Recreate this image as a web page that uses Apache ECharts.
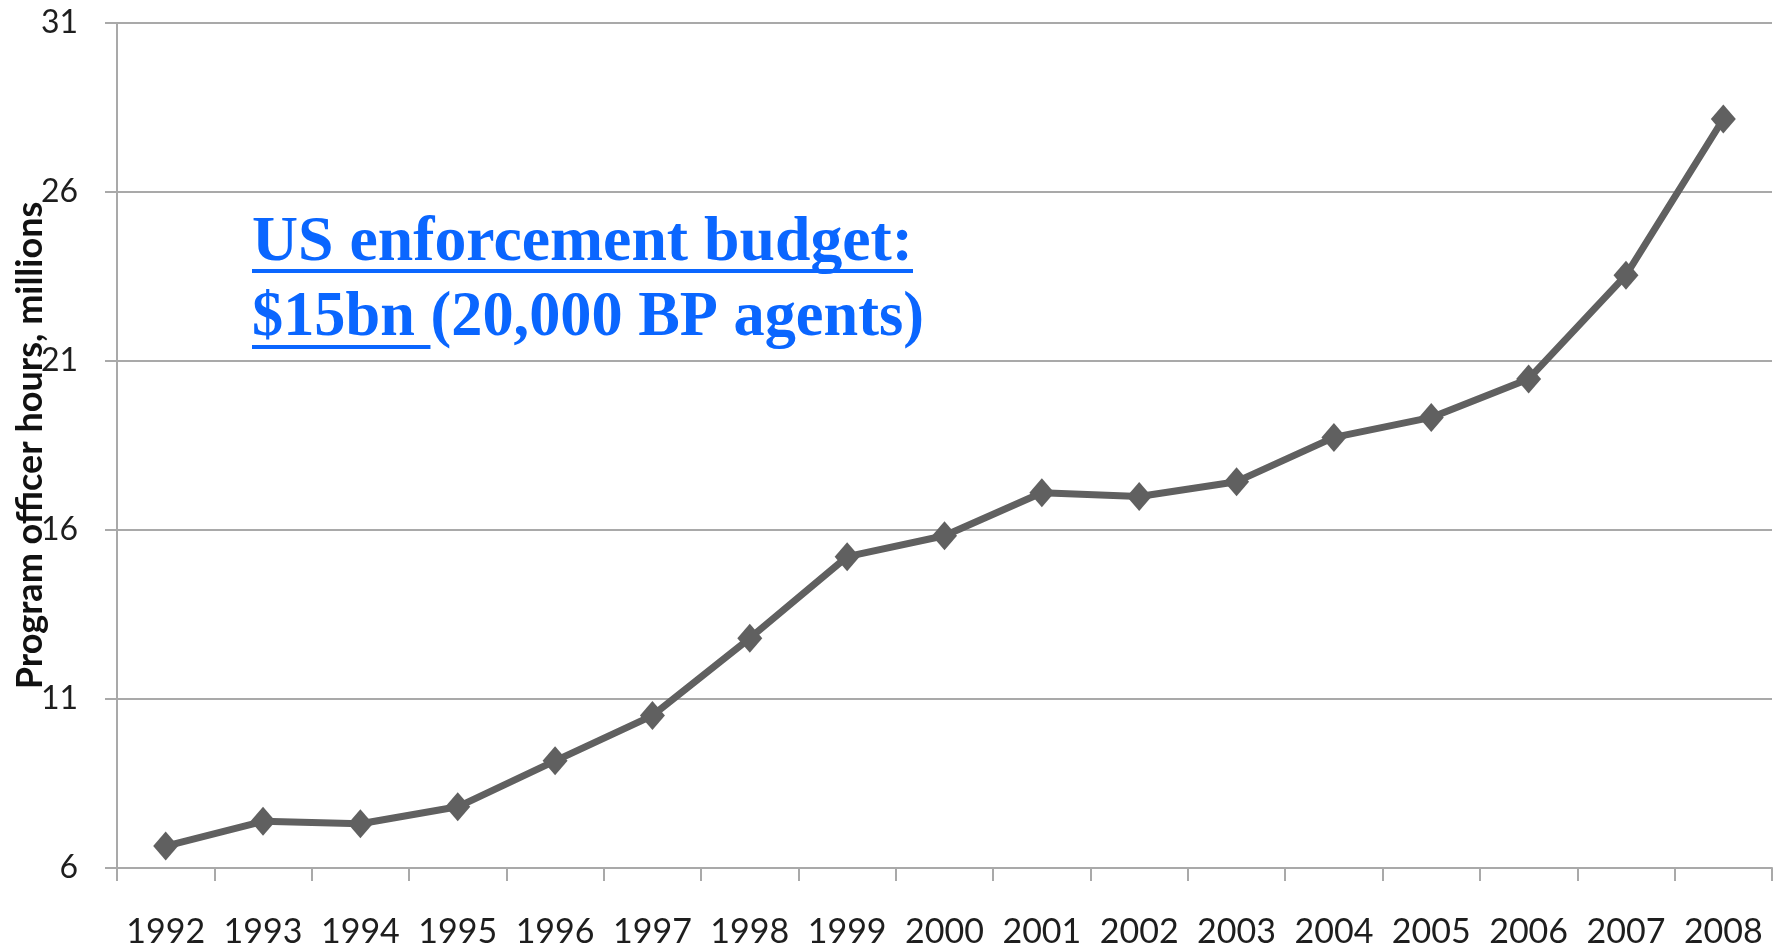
<!DOCTYPE html>
<html>
<head>
<meta charset="utf-8">
<script src="https://cdn.jsdelivr.net/npm/echarts@6/dist/echarts.min.js"></script>
<style>
html,body{margin:0;padding:0;background:#fff;}
#chart{width:1789px;height:946px;}
</style>
</head>
<body>
<div id="chart"></div>
<script>
// Data
var years = ['1992','1993','1994','1995','1996','1997','1998','1999','2000','2001','2002','2003','2004','2005','2006','2007','2008'];
var officerHours = [6.65, 7.38, 7.31, 7.81, 9.17, 10.51, 12.80, 15.21, 15.83, 17.10, 16.99, 17.43, 18.74, 19.33, 20.47, 23.54, 28.16];
var yTicks = {min: 6, max: 31, interval: 5};
var yTitle = 'Program officer hours, millions';
var noteLine1 = 'US enforcement budget:';
var noteLine2a = '$15bn ';
var noteLine2b = '(20,000 BP agents)';

var noteFont = 'bold 63px "Liberation Serif"';
var ctx = document.createElement('canvas').getContext('2d');
ctx.font = noteFont;
var noteScale1 = 661 / ctx.measureText(noteLine1).width;
var noteScale2 = 672 / ctx.measureText(noteLine2a + noteLine2b).width;
var wUnder2 = ctx.measureText(noteLine2a).width * noteScale2;

var blue = '#0a66ff';
var gridColor = '#a9a9a9';

var chart = echarts.init(document.getElementById('chart'));
chart.setOption({
  animation: false,
  backgroundColor: '#ffffff',
  grid: {left: 117, right: 17, top: 23, bottom: 78, containLabel: false, outerBoundsMode: 'none'},
  xAxis: {
    type: 'category',
    data: years,
    boundaryGap: true,
    axisLine: {show: true, lineStyle: {color: gridColor, width: 2}},
    axisTick: {show: true, length: 13, alignWithLabel: false, lineStyle: {color: gridColor, width: 2}},
    axisLabel: {fontFamily: 'Lato', fontSize: 34, color: '#1e1e1e', margin: 47, interval: 0},
    splitLine: {show: false}
  },
  yAxis: {
    type: 'value',
    min: yTicks.min, max: yTicks.max, interval: yTicks.interval,
    name: yTitle,
    nameLocation: 'middle',
    nameRotate: 90,
    nameGap: 69,
    nameMoveOverlap: false,
    nameTextStyle: {fontFamily: 'Lato', fontWeight: 'bold', fontSize: 36, color: '#111'},
    axisLine: {show: true, lineStyle: {color: gridColor, width: 2}},
    axisTick: {show: true, length: 12, lineStyle: {color: gridColor, width: 2}},
    axisLabel: {fontFamily: 'Lato', fontSize: 32, color: '#1e1e1e', margin: 39},
    splitLine: {show: true, lineStyle: {color: gridColor, width: 2}}
  },
  series: [{
    type: 'line',
    data: officerHours,
    symbol: 'diamond',
    symbolSize: [25, 29],
    showSymbol: true,
    lineStyle: {color: '#606060', width: 7},
    itemStyle: {color: '#606060'},
    z: 5
  }],
  graphic: [
    {type: 'text', x: 252, y: 244, scaleX: noteScale1, scaleY: 1,
     style: {text: noteLine1, font: noteFont, fill: blue, align: 'left', verticalAlign: 'middle'}},
    {type: 'rect', x: 252, y: 269, shape: {x: 0, y: 0, width: 661, height: 4}, style: {fill: blue}},
    {type: 'text', x: 252, y: 319, scaleX: noteScale2, scaleY: 1,
     style: {text: noteLine2a + noteLine2b, font: noteFont, fill: blue, align: 'left', verticalAlign: 'middle'}},
    {type: 'rect', x: 252, y: 345, shape: {x: 0, y: 0, width: wUnder2, height: 4}, style: {fill: blue}}
  ]
});
</script>
</body>
</html>
